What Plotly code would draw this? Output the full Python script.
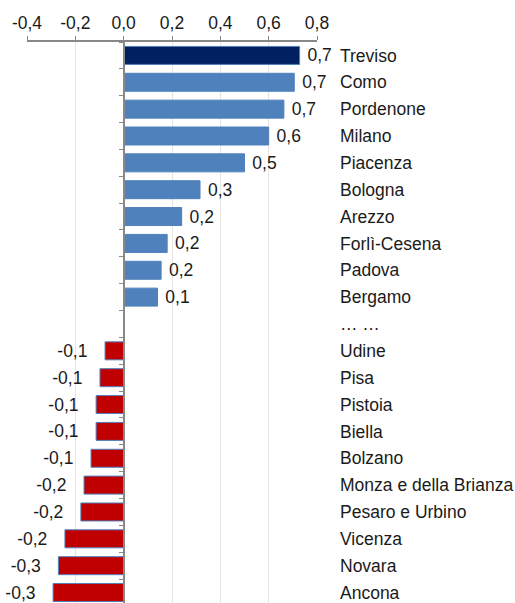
import plotly.graph_objects as go

# provinces, top to bottom (blank spacer row shown as "… …")
provinces = ["Treviso", "Como", "Pordenone", "Milano", "Piacenza", "Bologna",
             "Arezzo", "Forlì-Cesena", "Padova", "Bergamo", "… …",
             "Udine", "Pisa", "Pistoia", "Biella", "Bolzano",
             "Monza e della Brianza", "Pesaro e Urbino", "Vicenza", "Novara", "Ancona"]
values = [0.728, 0.706, 0.663, 0.60, 0.50, 0.316, 0.24, 0.18, 0.155, 0.14, None,
          -0.077, -0.098, -0.114, -0.114, -0.135, -0.164, -0.177, -0.243, -0.27, -0.292]

tick_vals = [-0.4, -0.2, 0.0, 0.2, 0.4, 0.6, 0.8]
tick_text = ["-0,4", "-0,2", "0,0", "0,2", "0,4", "0,6", "0,8"]

NAVY = "#002060"
BLUE = "#4F81BD"
RED = "#C00000"
FONT = "Liberation Sans, Arial, sans-serif"

colors, labels = [], []
for i, v in enumerate(values):
    if v is None:
        colors.append(BLUE)
        labels.append("")
    elif i == 0:
        colors.append(NAVY)
        labels.append(" " + f"{v:.1f}".replace(".", ","))
    elif v >= 0:
        colors.append(BLUE)
        labels.append(" " + f"{v:.1f}".replace(".", ","))
    else:
        colors.append(RED)
        labels.append(f"{v:.1f}".replace(".", ",") + "   ")

line_cols = [BLUE if (i == 0 or (v is not None and v < 0)) else c
             for i, (v, c) in enumerate(zip(values, colors))]

fig = go.Figure()
fig.add_trace(go.Bar(
    x=values, y=provinces, orientation="h",
    marker=dict(color=colors, line=dict(color=line_cols, width=1)),
    text=labels, textposition="outside", cliponaxis=False, constraintext="none",
    textfont=dict(family=FONT, size=17.5, color="#1a1a1a"),
    hoverinfo="skip", showlegend=False,
))
# invisible helper so the zero-line axis gets its category ticks
fig.add_trace(go.Scatter(
    x=[0] * len(provinces), y=provinces, yaxis="y2", mode="markers",
    marker=dict(opacity=0), hoverinfo="skip", showlegend=False,
))

yrange = [20.39, -0.5]

fig.update_layout(
    width=515, height=603,
    margin=dict(l=27, r=198, t=42, b=0, autoexpand=False),
    paper_bgcolor="white", plot_bgcolor="white",
    font=dict(family=FONT, size=17.5, color="#1a1a1a"),
    bargap=0.33,
    xaxis=dict(
        side="top", range=[-0.4, 0.8], tickvals=tick_vals, ticktext=tick_text,
        showline=True, linecolor="#888", linewidth=1.5, mirror=False,
        ticks="outside", ticklen=4, tickcolor="#888",
        showgrid=True, gridcolor="#E6E6DE", gridwidth=1,
        zeroline=False, ticklabelstandoff=0, automargin=False,
    ),
    yaxis=dict(
        type="category", categoryorder="array", categoryarray=provinces,
        range=yrange, side="right", showline=False, showgrid=False,
        ticks="", ticklabelstandoff=22, zeroline=False, automargin=False,
    ),
    yaxis2=dict(
        type="category", categoryorder="array", categoryarray=provinces,
        range=yrange, overlaying="y", anchor="free", side="left",
        position=(0 - (-0.4)) / (0.8 - (-0.4)),
        showline=True, linecolor="#888", linewidth=2,
        ticks="outside", ticklen=4, tickcolor="#888", tickson="boundaries",
        showticklabels=False, showgrid=False, zeroline=False, layer="above traces",
        automargin=False,
    ),
)

# drop the page's default body margin so the 515x603 figure fills the window
fig.write_html("out.html", config={"displayModeBar": False},
               post_script="document.body.style.margin='0';")
